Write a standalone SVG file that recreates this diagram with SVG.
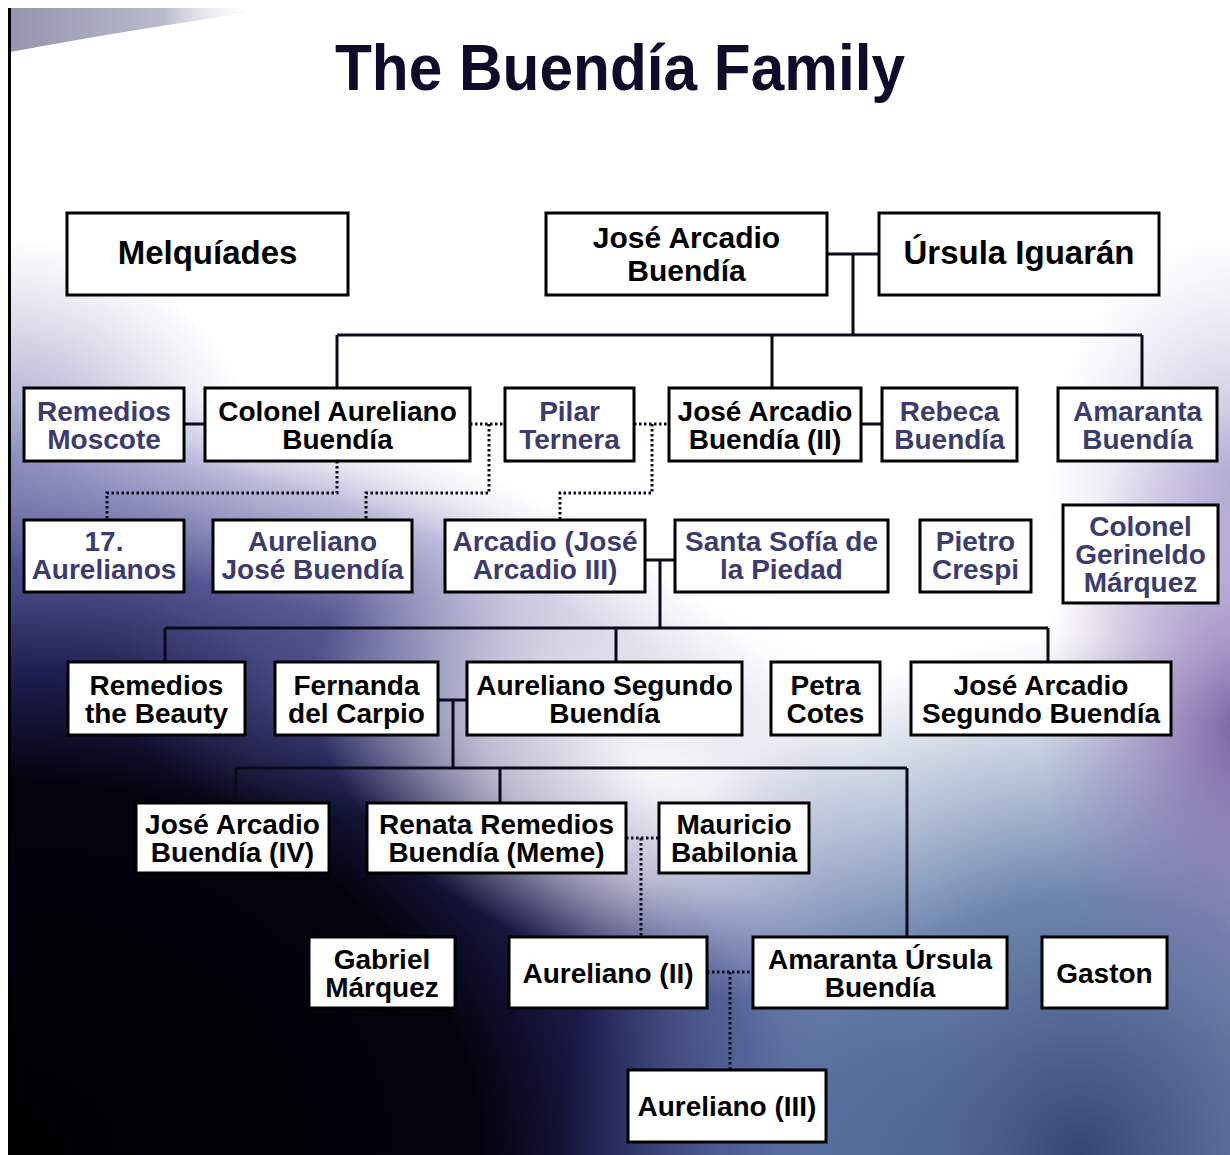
<svg xmlns="http://www.w3.org/2000/svg" width="1230" height="1155" viewBox="0 0 1230 1155">
<defs>
<radialGradient id="gDark" gradientUnits="userSpaceOnUse" cx="0" cy="1155" r="1000" gradientTransform="translate(0 1155) scale(1 0.78) translate(0 -1155)">
<stop offset="0" stop-color="#000000"/>
<stop offset="0.48" stop-color="#03030f"/>
<stop offset="0.62" stop-color="#1e1e50"/>
<stop offset="0.76" stop-color="#4c4c8c" stop-opacity="0.95"/>
<stop offset="0.9" stop-color="#8c8cbe" stop-opacity="0.6"/>
<stop offset="1" stop-color="#d0d0e8" stop-opacity="0"/>
</radialGradient>
<radialGradient id="gLeft" gradientUnits="userSpaceOnUse" cx="0" cy="470" r="260" gradientTransform="translate(0 470) scale(1 0.9) translate(0 -470)">
<stop offset="0" stop-color="#7676b0" stop-opacity="0.85"/>
<stop offset="1" stop-color="#a0a0cc" stop-opacity="0"/>
</radialGradient>
<radialGradient id="gMid" gradientUnits="userSpaceOnUse" cx="330" cy="680" r="170" gradientTransform="translate(330 680) scale(1.3 0.8) translate(-330 -680)">
<stop offset="0" stop-color="#5a5a98" stop-opacity="0.6"/>
<stop offset="1" stop-color="#5a5a98" stop-opacity="0"/>
</radialGradient>
<radialGradient id="gGlow" gradientUnits="userSpaceOnUse" cx="660" cy="770" r="260" gradientTransform="translate(660 770) rotate(20) scale(1.4 0.8) translate(-660 -770)">
<stop offset="0" stop-color="#ffffff" stop-opacity="0.95"/>
<stop offset="0.5" stop-color="#f0f0f6" stop-opacity="0.7"/>
<stop offset="1" stop-color="#ffffff" stop-opacity="0"/>
</radialGradient>
<radialGradient id="gBlue" gradientUnits="userSpaceOnUse" cx="1080" cy="1155" r="520">
<stop offset="0" stop-color="#2a3c70" stop-opacity="0.95"/>
<stop offset="0.5" stop-color="#4a6898" stop-opacity="0.8"/>
<stop offset="1" stop-color="#6080b0" stop-opacity="0"/>
</radialGradient>
<radialGradient id="gPurple" gradientUnits="userSpaceOnUse" cx="1240" cy="720" r="200" gradientTransform="translate(1240 720) scale(1 1.6) translate(-1240 -720)">
<stop offset="0" stop-color="#6a4a98" stop-opacity="0.85"/>
<stop offset="1" stop-color="#8a70b0" stop-opacity="0"/>
</radialGradient>
<radialGradient id="gRight" gradientUnits="userSpaceOnUse" cx="1235" cy="480" r="190" gradientTransform="translate(1235 480) scale(1 1.3) translate(-1235 -480)">
<stop offset="0" stop-color="#9a92c6" stop-opacity="0.7"/>
<stop offset="1" stop-color="#c0b8e0" stop-opacity="0"/>
</radialGradient>
<linearGradient id="gBar" x1="0" y1="0" x2="1" y2="0">
<stop offset="0" stop-color="#9494ae"/>
<stop offset="0.6" stop-color="#b8bacc"/>
<stop offset="1" stop-color="#ffffff" stop-opacity="0"/>
</linearGradient>
<style>
.box{fill:#ffffff;stroke:#000000;stroke-width:3}
.t{font-family:"Liberation Sans",Arial,sans-serif;font-weight:bold;font-size:28px;text-anchor:middle;fill:#000000}
.big{font-size:33px}
.mid{font-size:30px}
.nv{fill:#3b3b6e}
.ln{fill:none;stroke:#0a0a1a;stroke-width:3}
.dt{fill:none;stroke:#0a0a1a;stroke-width:3;stroke-dasharray:2.5 2.5}
</style>
</defs>
<g id="background">
<rect x="0" y="0" width="1230" height="1155" fill="#ffffff"/>
<rect x="10" y="8" width="1220" height="1147" fill="url(#gLeft)"/>
<rect x="10" y="8" width="1220" height="1147" fill="url(#gDark)"/>
<rect x="10" y="8" width="1220" height="1147" fill="url(#gMid)"/>
<rect x="10" y="8" width="1220" height="1147" fill="url(#gGlow)"/>
<rect x="10" y="8" width="1220" height="1147" fill="url(#gBlue)"/>
<rect x="10" y="8" width="1220" height="1147" fill="url(#gPurple)"/>
<rect x="10" y="8" width="1220" height="1147" fill="url(#gRight)"/>
<path d="M10,8 L265,8 L265,11 Q150,26 10,52 Z" fill="url(#gBar)"/>
<rect x="8" y="8" width="3" height="1147" fill="#000000"/>
</g>
<text class="t" x="620" y="90" style="font-size:64px;fill:#0e0c2a" textLength="570" lengthAdjust="spacingAndGlyphs">The Buendía Family</text>
<g id="connectors">
<path class="ln" d="M827,254 H879 M853,254 V335 M337,335 H1142 M337,335 V388 M772,335 V388 M1142,335 V388"/>
<path class="ln" d="M184,424 H205 M861,424 H882"/>
<path class="ln" d="M645,560 H675 M660,560 V628 M165,628 H1048 M165,628 V662 M616,628 V662 M1048,628 V662"/>
<path class="ln" d="M438,700 H467 M453,700 V768 M236,768 H907 M236,768 V803 M500,768 V803 M907,768 V937"/>
<path class="dt" d="M470,424 H505 M337,461 V493 H107 V520 M489,424 V493 H366 V520"/>
<path class="dt" d="M634,424 H669 M652,424 V493 H560 V520"/>
<path class="dt" d="M626,838 H659 M641,838 V937"/>
<path class="dt" d="M707,972 H753 M730,972 V1070"/>
</g>
<g id="melquiades"><rect class="box" x="67" y="213" width="281" height="82"/><text class="t big" x="207.5" y="264">Melquíades</text></g>
<g id="jose-arcadio-buendia"><rect class="box" x="546" y="213" width="281" height="82"/><text class="t mid"><tspan x="686.5" y="248">José Arcadio</tspan><tspan x="686.5" y="281">Buendía</tspan></text></g>
<g id="ursula-iguaran"><rect class="box" x="879" y="213" width="280" height="82"/><text class="t big" x="1019" y="264">Úrsula Iguarán</text></g>
<g id="remedios-moscote"><rect class="box" x="24" y="388" width="160" height="73"/><text class="t nv"><tspan x="104" y="420.5">Remedios</tspan><tspan x="104" y="448.5">Moscote</tspan></text></g>
<g id="colonel-aureliano-buendia"><rect class="box" x="205" y="388" width="265" height="73"/><text class="t"><tspan x="337.5" y="420.5">Colonel Aureliano</tspan><tspan x="337.5" y="448.5">Buendía</tspan></text></g>
<g id="pilar-ternera"><rect class="box" x="505" y="388" width="129" height="73"/><text class="t nv"><tspan x="569.5" y="420.5">Pilar</tspan><tspan x="569.5" y="448.5">Ternera</tspan></text></g>
<g id="jose-arcadio-buendia-ii"><rect class="box" x="669" y="388" width="192" height="73"/><text class="t"><tspan x="765" y="420.5">José Arcadio</tspan><tspan x="765" y="448.5">Buendía (II)</tspan></text></g>
<g id="rebeca-buendia"><rect class="box" x="882" y="388" width="135" height="73"/><text class="t nv"><tspan x="949.5" y="420.5">Rebeca</tspan><tspan x="949.5" y="448.5">Buendía</tspan></text></g>
<g id="amaranta-buendia"><rect class="box" x="1058" y="388" width="159" height="73"/><text class="t nv"><tspan x="1137.5" y="420.5">Amaranta</tspan><tspan x="1137.5" y="448.5">Buendía</tspan></text></g>
<g id="aurelianos-17"><rect class="box" x="24" y="520" width="160" height="72"/><text class="t nv"><tspan x="104" y="551">17.</tspan><tspan x="104" y="579">Aurelianos</tspan></text></g>
<g id="aureliano-jose-buendia"><rect class="box" x="213" y="520" width="199" height="72"/><text class="t nv"><tspan x="312.5" y="551">Aureliano</tspan><tspan x="312.5" y="579">José Buendía</tspan></text></g>
<g id="arcadio"><rect class="box" x="445" y="520" width="200" height="72"/><text class="t nv"><tspan x="545" y="551">Arcadio (José</tspan><tspan x="545" y="579">Arcadio III)</tspan></text></g>
<g id="santa-sofia"><rect class="box" x="675" y="520" width="213" height="72"/><text class="t nv"><tspan x="781.5" y="551">Santa Sofía de</tspan><tspan x="781.5" y="579">la Piedad</tspan></text></g>
<g id="pietro-crespi"><rect class="box" x="920" y="520" width="111" height="72"/><text class="t nv"><tspan x="975.5" y="551">Pietro</tspan><tspan x="975.5" y="579">Crespi</tspan></text></g>
<g id="gerineldo-marquez"><rect class="box" x="1063" y="505" width="155" height="98"/><text class="t nv"><tspan x="1140.5" y="536">Colonel</tspan><tspan x="1140.5" y="564">Gerineldo</tspan><tspan x="1140.5" y="592">Márquez</tspan></text></g>
<g id="remedios-the-beauty"><rect class="box" x="68" y="662" width="177" height="73"/><text class="t"><tspan x="156.5" y="694.5">Remedios</tspan><tspan x="156.5" y="722.5">the Beauty</tspan></text></g>
<g id="fernanda-del-carpio"><rect class="box" x="275" y="662" width="163" height="73"/><text class="t"><tspan x="356.5" y="694.5">Fernanda</tspan><tspan x="356.5" y="722.5">del Carpio</tspan></text></g>
<g id="aureliano-segundo"><rect class="box" x="467" y="662" width="275" height="73"/><text class="t"><tspan x="604.5" y="694.5">Aureliano Segundo</tspan><tspan x="604.5" y="722.5">Buendía</tspan></text></g>
<g id="petra-cotes"><rect class="box" x="771" y="662" width="109" height="73"/><text class="t"><tspan x="825.5" y="694.5">Petra</tspan><tspan x="825.5" y="722.5">Cotes</tspan></text></g>
<g id="jose-arcadio-segundo"><rect class="box" x="911" y="662" width="260" height="73"/><text class="t"><tspan x="1041" y="694.5">José Arcadio</tspan><tspan x="1041" y="722.5">Segundo Buendía</tspan></text></g>
<g id="jose-arcadio-buendia-iv"><rect class="box" x="136" y="803" width="193" height="70"/><text class="t"><tspan x="232.5" y="834">José Arcadio</tspan><tspan x="232.5" y="862">Buendía (IV)</tspan></text></g>
<g id="meme"><rect class="box" x="367" y="803" width="259" height="70"/><text class="t"><tspan x="496.5" y="834">Renata Remedios</tspan><tspan x="496.5" y="862">Buendía (Meme)</tspan></text></g>
<g id="mauricio-babilonia"><rect class="box" x="659" y="803" width="150" height="70"/><text class="t"><tspan x="734" y="834">Mauricio</tspan><tspan x="734" y="862">Babilonia</tspan></text></g>
<g id="gabriel-marquez"><rect class="box" x="309" y="937" width="146" height="71"/><text class="t"><tspan x="382" y="968.5">Gabriel</tspan><tspan x="382" y="996.5">Márquez</tspan></text></g>
<g id="aureliano-ii"><rect class="box" x="509" y="937" width="198" height="71"/><text class="t" x="608" y="982.5">Aureliano (II)</text></g>
<g id="amaranta-ursula"><rect class="box" x="753" y="937" width="254" height="71"/><text class="t"><tspan x="880" y="968.5">Amaranta Úrsula</tspan><tspan x="880" y="996.5">Buendía</tspan></text></g>
<g id="gaston"><rect class="box" x="1042" y="937" width="125" height="71"/><text class="t" x="1104.5" y="982.5">Gaston</text></g>
<g id="aureliano-iii"><rect class="box" x="628" y="1070" width="198" height="72"/><text class="t" x="727" y="1116">Aureliano (III)</text></g>
</svg>
